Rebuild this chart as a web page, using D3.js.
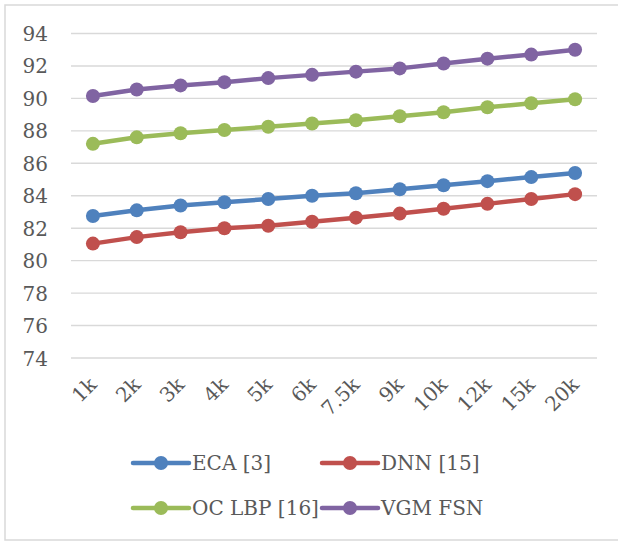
<!DOCTYPE html>
<html>
<head>
<meta charset="utf-8">
<script src="https://cdn.jsdelivr.net/npm/d3@7"></script>
<style>
  html, body { margin: 0; padding: 0; background: #fff; }
  svg { display: block; }
</style>
</head>
<body>
<script>
// Training-set sizes along the x axis
const categories = ["1k", "2k", "3k", "4k", "5k", "6k", "7.5k", "9k", "10k", "12k", "15k", "20k"];

// Accuracy (%) per method
const seriesNames = ["ECA [3]", "DNN [15]", "OC LBP [16]", "VGM FSN"];
const ecaValues   = [82.75, 83.1, 83.4, 83.6, 83.8, 84.0, 84.15, 84.4, 84.65, 84.9, 85.15, 85.4];
const dnnValues   = [81.05, 81.45, 81.75, 82.0, 82.15, 82.4, 82.65, 82.9, 83.2, 83.5, 83.8, 84.1];
const oclbpValues = [87.2, 87.6, 87.85, 88.05, 88.25, 88.45, 88.65, 88.9, 89.15, 89.45, 89.7, 89.95];
const vgmValues   = [90.15, 90.55, 90.8, 91.0, 91.25, 91.45, 91.65, 91.85, 92.15, 92.45, 92.7, 93.0];
const seriesColors = ["#4f81bd", "#c0504d", "#9bbb59", "#8064a2"];

const yTicks = [74, 76, 78, 80, 82, 84, 86, 88, 90, 92, 94];

const series = seriesNames.map((name, i) => ({
  name,
  color: seriesColors[i],
  values: [ecaValues, dnnValues, oclbpValues, vgmValues][i]
}));

const W = 618, H = 541;
const FONT = "'DejaVu Serif', 'Liberation Serif', serif";
const TEXT = "#595959";

const svg = d3.select("body").append("svg")
  .attr("width", W).attr("height", H);

// chart area frame
svg.append("rect")
  .attr("x", 5).attr("y", 5)
  .attr("width", W + 10).attr("height", 535)
  .attr("fill", "#fff")
  .attr("stroke", "#d9d9d9").attr("stroke-width", 1.5);

const x = d3.scaleBand().domain(categories).range([71, 597]).padding(0);
const y = d3.scaleLinear().domain([74, 94]).range([358, 33.5]);
const cx = c => x(c) + x.bandwidth() / 2;

// horizontal gridlines
svg.append("g").selectAll("line").data(yTicks).join("line")
  .attr("x1", 71).attr("x2", 597)
  .attr("y1", d => y(d)).attr("y2", d => y(d))
  .attr("stroke", "#d9d9d9").attr("stroke-width", 1.4);

// y axis labels
const yAxis = d3.axisLeft(y).tickValues(yTicks).tickSize(0).tickPadding(0).tickFormat(d3.format("d"));
const gy = svg.append("g").attr("transform", "translate(48,0)").call(yAxis);
gy.select(".domain").remove();
gy.selectAll("text")
  .attr("font-family", FONT).attr("font-size", 20)
  .attr("fill", TEXT).attr("dy", "0.35em");

// x axis labels, rotated
const xAxis = d3.axisBottom(x).tickSize(0).tickPadding(0);
const gx = svg.append("g").attr("transform", "translate(0,381)").call(xAxis);
gx.select(".domain").remove();
gx.selectAll("text")
  .attr("font-family", FONT).attr("font-size", 20).attr("fill", TEXT)
  .attr("text-anchor", "end")
  .attr("dominant-baseline", "central")
  .attr("dy", null).attr("y", 0)
  .attr("transform", "rotate(-45)");

// lines and markers
const line = d3.line().x((d, i) => cx(categories[i])).y(d => y(d));
const gs = svg.append("g").selectAll("g").data(series).join("g");
gs.append("path")
  .attr("d", d => line(d.values))
  .attr("fill", "none")
  .attr("stroke", d => d.color)
  .attr("stroke-width", 4.5)
  .attr("stroke-linejoin", "round");
gs.each(function (s) {
  d3.select(this).selectAll("circle").data(s.values).join("circle")
    .attr("cx", (d, i) => cx(categories[i]))
    .attr("cy", d => y(d))
    .attr("r", 7)
    .attr("fill", s.color);
});

// legend: two columns, two rows
const legendCols = [133, 322], legendRows = [463, 508];
const lg = svg.append("g").selectAll("g").data(series).join("g")
  .attr("transform", (d, i) => `translate(${legendCols[i % 2]},${legendRows[Math.floor(i / 2)]})`);
lg.append("line")
  .attr("x1", 0).attr("x2", 56).attr("y1", 0).attr("y2", 0)
  .attr("stroke", d => d.color).attr("stroke-width", 4.5).attr("stroke-linecap", "round");
lg.append("circle").attr("cx", 28).attr("cy", 0).attr("r", 7).attr("fill", d => d.color);
lg.append("text")
  .attr("x", 59).attr("y", 0).attr("dy", "0.35em")
  .attr("font-family", FONT).attr("font-size", 20).attr("fill", TEXT)
  .text(d => d.name);
</script>
</body>
</html>
